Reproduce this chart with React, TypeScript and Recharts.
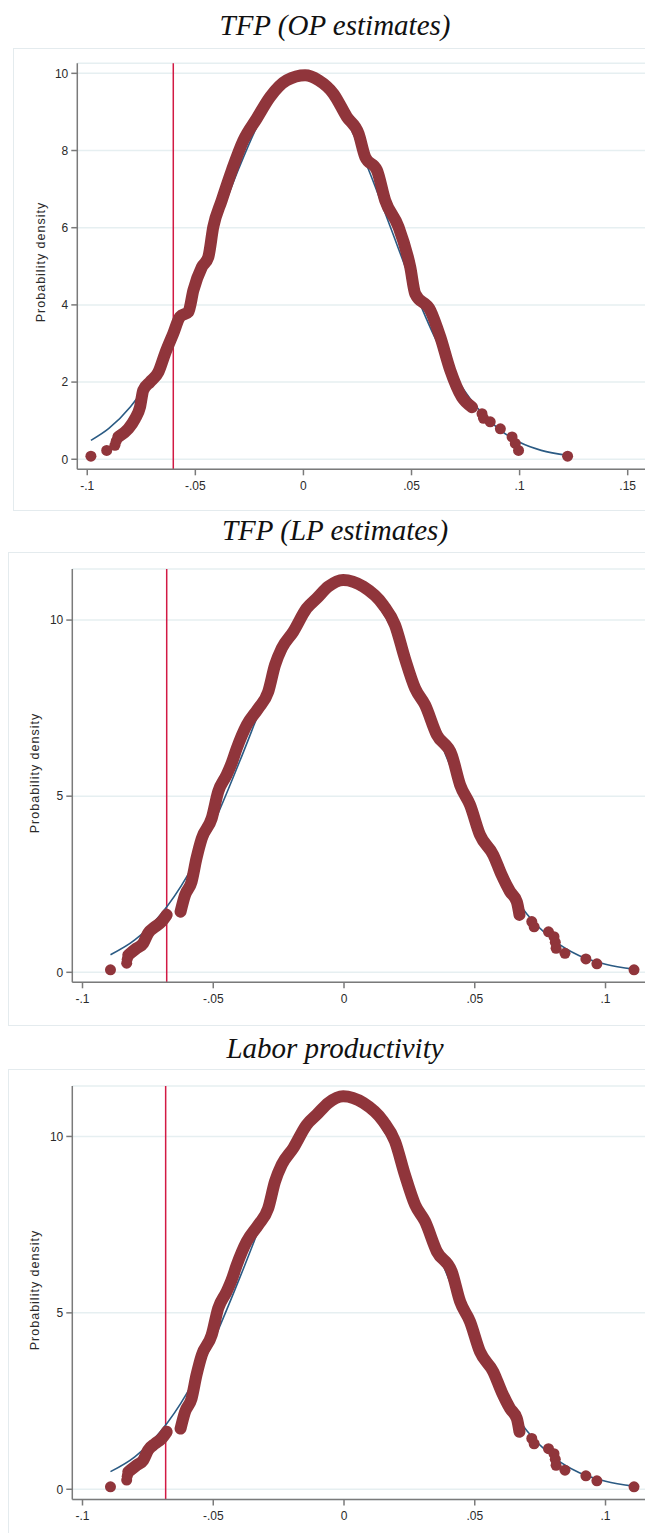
import { ComposedChart, Line, Scatter, XAxis, YAxis, CartesianGrid, ReferenceLine } from 'recharts';

// TFP (OP estimates): empirical density (dots) and fitted normal
const opBand = [
  { x: -0.0856, d: 0.58 }, { x: -0.081, d: 0.79 }, { x: -0.0779, d: 1.05 }, { x: -0.0756, d: 1.35 },
  { x: -0.0741, d: 1.79 }, { x: -0.071, d: 2.0 }, { x: -0.0671, d: 2.26 }, { x: -0.064, d: 2.74 },
  { x: -0.0602, d: 3.26 }, { x: -0.0571, d: 3.69 }, { x: -0.0532, d: 3.82 }, { x: -0.0509, d: 4.38 },
  { x: -0.047, d: 4.98 }, { x: -0.044, d: 5.24 }, { x: -0.0417, d: 6.02 }, { x: -0.0378, d: 6.71 },
  { x: -0.0331, d: 7.49 }, { x: -0.0278, d: 8.26 }, { x: -0.0216, d: 8.83 }, { x: -0.0154, d: 9.39 },
  { x: -0.0077, d: 9.82 }, { x: 0.0008, d: 9.95 }, { x: 0.007, d: 9.82 }, { x: 0.0139, d: 9.47 },
  { x: 0.0201, d: 8.87 }, { x: 0.0255, d: 8.44 }, { x: 0.0286, d: 7.83 }, { x: 0.034, d: 7.49 },
  { x: 0.0378, d: 6.71 }, { x: 0.044, d: 6.02 }, { x: 0.0494, d: 4.98 }, { x: 0.0517, d: 4.29 },
  { x: 0.0587, d: 3.86 }, { x: 0.0633, d: 3.17 }, { x: 0.0679, d: 2.31 }, { x: 0.0733, d: 1.61 },
  { x: 0.078, d: 1.35 },
];
const opTail = [
  { x: -0.0983, d: 0.08 }, { x: -0.091, d: 0.23 }, { x: -0.0872, d: 0.36 }, { x: -0.0866, d: 0.47 },
  { x: 0.0826, d: 1.18 }, { x: 0.0833, d: 1.06 }, { x: 0.0864, d: 0.97 }, { x: 0.0911, d: 0.79 },
  { x: 0.0965, d: 0.58 }, { x: 0.098, d: 0.41 }, { x: 0.0995, d: 0.23 }, { x: 0.1222, d: 0.08 },
];
const opNormal = [
  { x: -0.0983, d: 0.49 }, { x: -0.09, d: 0.8 }, { x: -0.08, d: 1.36 }, { x: -0.07, d: 2.17 },
  { x: -0.06, d: 3.25 }, { x: -0.05, d: 4.57 }, { x: -0.04, d: 6.05 }, { x: -0.03, d: 7.52 },
  { x: -0.02, d: 8.79 }, { x: -0.01, d: 9.65 }, { x: 0, d: 9.95 }, { x: 0.01, d: 9.65 },
  { x: 0.02, d: 8.79 }, { x: 0.03, d: 7.52 }, { x: 0.04, d: 6.05 }, { x: 0.05, d: 4.57 },
  { x: 0.06, d: 3.25 }, { x: 0.07, d: 2.17 }, { x: 0.08, d: 1.36 }, { x: 0.09, d: 0.8 },
  { x: 0.1, d: 0.44 }, { x: 0.11, d: 0.23 }, { x: 0.1222, d: 0.1 },
];
const opCutoff = -0.0602;

// TFP (LP estimates)
const lpBand = [
  { x: -0.0625, d: 1.72 }, { x: -0.0608, d: 2.19 }, { x: -0.0583, d: 2.57 }, { x: -0.0564, d: 3.24 },
  { x: -0.0544, d: 3.8 }, { x: -0.0506, d: 4.37 }, { x: -0.0481, d: 5.13 }, { x: -0.0449, d: 5.6 },
  { x: -0.043, d: 5.93 }, { x: -0.041, d: 6.36 }, { x: -0.0372, d: 7.02 }, { x: -0.0328, d: 7.49 },
  { x: -0.029, d: 7.96 }, { x: -0.0264, d: 8.72 }, { x: -0.0238, d: 9.2 }, { x: -0.0194, d: 9.67 },
  { x: -0.0143, d: 10.33 }, { x: -0.0104, d: 10.62 }, { x: -0.006, d: 10.95 }, { x: -0.0003, d: 11.14 },
  { x: 0.0074, d: 10.95 }, { x: 0.015, d: 10.43 }, { x: 0.0195, d: 9.86 }, { x: 0.0233, d: 8.91 },
  { x: 0.0272, d: 8.06 }, { x: 0.031, d: 7.59 }, { x: 0.0355, d: 6.74 }, { x: 0.0412, d: 6.17 },
  { x: 0.0444, d: 5.32 }, { x: 0.0482, d: 4.75 }, { x: 0.052, d: 3.9 }, { x: 0.0571, d: 3.33 },
  { x: 0.0603, d: 2.76 }, { x: 0.0635, d: 2.29 }, { x: 0.0661, d: 2.0 }, { x: 0.0671, d: 1.63 },
];
const lpBandLow = [
  { x: -0.0825, d: 0.49 }, { x: -0.0793, d: 0.68 }, { x: -0.0768, d: 0.82 }, { x: -0.0749, d: 1.11 },
  { x: -0.0723, d: 1.29 }, { x: -0.0697, d: 1.44 }, { x: -0.0678, d: 1.63 },
];
const lpTail = [
  { x: -0.0893, d: 0.07 }, { x: -0.0831, d: 0.26 }, { x: -0.0829, d: 0.37 },
  { x: 0.0718, d: 1.44 }, { x: 0.0727, d: 1.29 }, { x: 0.0782, d: 1.15 }, { x: 0.0803, d: 1.01 },
  { x: 0.0808, d: 0.85 }, { x: 0.0811, d: 0.68 }, { x: 0.0845, d: 0.54 }, { x: 0.0925, d: 0.38 },
  { x: 0.0967, d: 0.24 }, { x: 0.1109, d: 0.07 },
];
const lpNormal = [
  { x: -0.0893, d: 0.5 }, { x: -0.08, d: 0.92 }, { x: -0.07, d: 1.65 }, { x: -0.06, d: 2.73 },
  { x: -0.05, d: 4.2 }, { x: -0.04, d: 5.97 }, { x: -0.03, d: 7.84 }, { x: -0.02, d: 9.53 },
  { x: -0.01, d: 10.71 }, { x: 0, d: 11.14 }, { x: 0.01, d: 10.71 }, { x: 0.02, d: 9.53 },
  { x: 0.03, d: 7.84 }, { x: 0.04, d: 5.97 }, { x: 0.05, d: 4.2 }, { x: 0.06, d: 2.73 },
  { x: 0.07, d: 1.65 }, { x: 0.08, d: 0.92 }, { x: 0.09, d: 0.47 }, { x: 0.1, d: 0.23 },
  { x: 0.1109, d: 0.09 },
];
const lpCutoff = -0.0678;

// Labor productivity (reads the same as the LP panel)
const labBand = lpBand;
const labBandLow = lpBandLow;
const labTail = lpTail;
const labNormal = lpNormal;
const labCutoff = -0.0682;

const opXTicks = [-0.1, -0.05, 0, 0.05, 0.1, 0.15];
const lpXTicks = [-0.1, -0.05, 0, 0.05, 0.1];
const opYTicks = [0, 2, 4, 6, 8, 10];
const lpYTicks = [0, 5, 10];

const MAROON = '#90353b';
const NAVY = '#2b5b84';
const RED = '#d21a44';
const AXIS = '#7a7a7a';
const SANS = '"Liberation Sans", Arial, sans-serif';

const fmt = (v: number) => {
  if (v === 0) return '0';
  return (v < 0 ? '-' : '') + String(Math.abs(v)).replace(/^0/, '');
};

const dot = (p: any) => <circle cx={p.cx} cy={p.cy} r={5.5} fill={MAROON} />;

function Panel(props: any) {
  const { top, height, margin, xDomain, yDomain, xTicks, yTicks, band, bandLow, tail, normal, cutoff } = props;
  const tickStyle = { fontSize: 12, fill: '#2a2a2a', fontFamily: SANS };
  return (
    <div style={{ position: 'absolute', left: 0, top, width: 645, height }}>
      <ComposedChart width={645} height={height} margin={margin}>
        <CartesianGrid vertical={false} stroke="#e6eff1" strokeWidth={1.5} />
        <XAxis
          type="number"
          dataKey="x"
          domain={xDomain}
          ticks={xTicks}
          allowDataOverflow
          tickFormatter={fmt}
          height={30}
          tickSize={6}
          tickMargin={6}
          stroke={AXIS}
          strokeWidth={1.5}
          tick={tickStyle}
        />
        <YAxis
          type="number"
          dataKey="d"
          domain={yDomain}
          ticks={yTicks}
          allowDataOverflow
          width={45}
          tickSize={6}
          tickMargin={3}
          stroke={AXIS}
          strokeWidth={1.5}
          tick={tickStyle}
        />
        <ReferenceLine x={cutoff} stroke={RED} strokeWidth={1.5} />
        <Line data={normal} dataKey="d" type="monotone" stroke={NAVY} strokeWidth={1.6} dot={false} isAnimationActive={false} />
        <Line data={band} dataKey="d" type="monotoneX" stroke={MAROON} strokeWidth={12} strokeLinecap="round" strokeLinejoin="round" dot={false} isAnimationActive={false} />
        {bandLow && (
          <Line data={bandLow} dataKey="d" type="monotoneX" stroke={MAROON} strokeWidth={12} strokeLinecap="round" strokeLinejoin="round" dot={false} isAnimationActive={false} />
        )}
        <Scatter data={tail} dataKey="d" shape={dot} isAnimationActive={false} />
      </ComposedChart>
    </div>
  );
}

const titleStyle = (cy: number): any => ({
  position: 'absolute', left: 10, width: 650, top: cy - 17, height: 34, lineHeight: '34px',
  textAlign: 'center', fontFamily: '"Liberation Serif", serif', fontStyle: 'italic', fontSize: 29, color: '#111',
});
const frameStyle = (left: number, top: number, bottom: number | null): any => ({
  position: 'absolute', left, top, width: 645 - left, height: (bottom ?? 1540) - top,
  borderTop: '1px solid #e4ebee', borderLeft: '1px solid #e4ebee',
  borderBottom: bottom ? '1px solid #e4ebee' : 'none', boxSizing: 'border-box', background: '#fff',
});
const yLabel = (cx: number, cy: number): any => ({
  position: 'absolute', left: cx, top: cy, transform: 'translate(-50%, -50%) rotate(-90deg)',
  whiteSpace: 'nowrap', fontSize: 12.5, letterSpacing: 1, color: '#2a2a2a', fontFamily: SANS,
});

export default function App() {
  return (
    <div style={{ position: 'absolute', left: 0, top: 0, width: 645, height: 1533, overflow: 'hidden', background: '#fff' }}>
      <div style={titleStyle(25)}>TFP (OP estimates)</div>
      <div style={frameStyle(13, 48, 511)} />
      <Panel
        top={0} height={520}
        margin={{ top: 63.3, right: 0, bottom: 20.7, left: 32.3 }}
        xDomain={[-0.1046, 0.158]} yDomain={[-0.26, 10.26]}
        xTicks={opXTicks} yTicks={opYTicks}
        band={opBand} tail={opTail} normal={opNormal} cutoff={opCutoff}
      />
      <div style={yLabel(41, 262)}>Probability density</div>

      <div style={titleStyle(530)}>TFP (LP estimates)</div>
      <div style={frameStyle(8, 552, 1026)} />
      <Panel
        top={520} height={520}
        margin={{ top: 49, right: 0, bottom: 27.7, left: 27.3 }}
        xDomain={[-0.1039, 0.1151]} yDomain={[-0.284, 11.45]}
        xTicks={lpXTicks} yTicks={lpYTicks}
        band={lpBand} bandLow={lpBandLow} tail={lpTail} normal={lpNormal} cutoff={lpCutoff}
      />
      <div style={yLabel(35, 773)}>Probability density</div>

      <div style={titleStyle(1048)}>Labor productivity</div>
      <div style={frameStyle(8, 1069, null)} />
      <Panel
        top={1040} height={493}
        margin={{ top: 46, right: 0, bottom: 3.5, left: 27.3 }}
        xDomain={[-0.1039, 0.1151]} yDomain={[-0.29, 11.43]}
        xTicks={lpXTicks} yTicks={lpYTicks}
        band={labBand} bandLow={labBandLow} tail={labTail} normal={labNormal} cutoff={labCutoff}
      />
      <div style={yLabel(35, 1290)}>Probability density</div>
    </div>
  );
}
